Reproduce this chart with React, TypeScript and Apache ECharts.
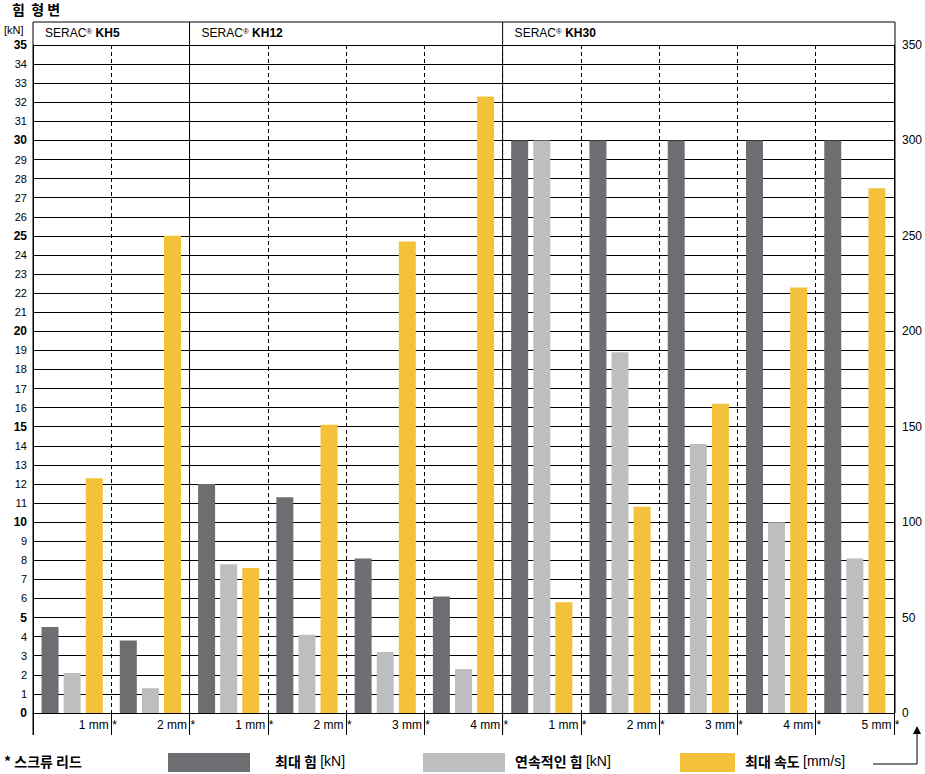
import React, { useEffect, useRef } from 'react';
import * as echarts from 'echarts';

const categories = ['1 mm *', '2 mm *', '1 mm *', '2 mm *', '3 mm *', '4 mm *', '1 mm *', '2 mm *', '3 mm *', '4 mm *', '5 mm *'];
const maxForce = [4.5, 3.8, 12.0, 11.3, 8.1, 6.1, 30, 30, 30, 30, 30];
const contForce = [2.1, 1.3, 7.8, 4.1, 3.2, 2.3, 30, 18.9, 14.1, 10, 8.1];
const maxSpeed = [123, 250, 76, 151, 247, 323, 58, 108, 162, 223, 275];
const groups = [
  { name: 'KH5', start: 0 },
  { name: 'KH12', start: 2 },
  { name: 'KH30', start: 6 },
];

const FONT = '"Liberation Sans Narrow", "Liberation Sans", Arial, sans-serif';
const DARK = '#6d6e71';
const LIGHT = '#bcbec0';
const YELLOW = '#f3c13a';

const App: React.FC = () => {
  const ref = useRef<HTMLDivElement>(null);

  useEffect(() => {
    if (!ref.current) return;
    const chart = echarts.init(ref.current, null, { renderer: 'svg' });
    const top = 45, bottom = 61, left = 33, right = 30;
    chart.setOption({
      animation: false,
      textStyle: { fontFamily: FONT },
      grid: { left, right, top, bottom },
      xAxis: {
        type: 'category',
        data: categories,
        axisLine: { lineStyle: { color: '#000', width: 1 } },
        axisTick: { show: true, length: 22, lineStyle: { color: '#000' } },
        axisLabel: { color: '#000', fontSize: 12, align: 'left', margin: 6,
          formatter: (v: string) => '  ' + v },
        splitLine: { show: true, lineStyle: { color: '#000', type: [4, 3], width: 1 } },
      },
      yAxis: [
        {
          type: 'value', min: 0, max: 35, interval: 1,
          axisLine: { show: true, lineStyle: { color: '#000' } },
          axisTick: { show: false },
          axisLabel: {
            color: '#000', fontSize: 11, margin: 6,
            formatter: (v: number) => (v % 5 === 0 ? `{b|${v}}` : `${v}`),
            rich: { b: { fontWeight: 'bold', fontSize: 12, fontFamily: FONT } },
          },
          splitLine: { show: true, interval: (i: number) => i % 5 === 0,
            lineStyle: { color: '#000', width: 1 } },
        },
        {
          type: 'value', min: 0, max: 350, interval: 50,
          axisLine: { show: true, lineStyle: { color: '#000' } },
          axisTick: { show: false },
          axisLabel: { color: '#000', fontSize: 12, margin: 8 },
          splitLine: { show: false },
        },
      ],
      series: [
        { type: 'bar', data: maxForce, barWidth: 17, barGap: '30%', itemStyle: { color: DARK } },
        { type: 'bar', data: contForce, barWidth: 17, barGap: '30%', itemStyle: { color: LIGHT } },
        { type: 'bar', data: maxSpeed, yAxisIndex: 1, barWidth: 17, barGap: '30%', itemStyle: { color: YELLOW } },
      ],
    });

    const W = 925, H = 774;
    const px = (i: number) => chart.convertToPixel({ xAxisIndex: 0 }, i) as number;
    const step = px(1) - px(0);
    const bound = (i: number) => px(i) - step / 2;
    const baseY = H - bottom;
    const elems: any[] = [];
    // top header line
    elems.push({ type: 'line', shape: { x1: left, y1: 22, x2: W - right, y2: 22 }, style: { stroke: '#000', lineWidth: 1 } });
    groups.forEach((g) => {
      const x = bound(g.start);
      elems.push({ type: 'line', shape: { x1: x, y1: 22, x2: x, y2: baseY + 22 }, style: { stroke: '#000', lineWidth: 1 }, z: 10 });
      elems.push({
        type: 'text', x: x + 12, y: 27,
        style: {
          text: `{n|SERAC}{s|®} {b|${g.name}}`,
          rich: {
            n: { fontSize: 12, fontFamily: FONT, fill: '#000' },
            s: { fontSize: 8, fontFamily: FONT, fill: '#000', verticalAlign: 'top' },
            b: { fontSize: 12, fontWeight: 'bold', fontFamily: FONT, fill: '#000' },
          },
        },
      });
    });
    elems.push({ type: 'line', shape: { x1: W - right, y1: 22, x2: W - right, y2: baseY }, style: { stroke: '#000' } });
    elems.push({ type: 'text', x: 12, y: 2, style: { text: '힘  형 변', font: 'bold 14px "Noto Sans CJK KR"', fill: '#000' } });
    elems.push({ type: 'text', x: 4, y: 24, style: { text: '[kN]', font: '11px ' + FONT, fill: '#000' } });
    // legend
    const ly = 753;
    elems.push({ type: 'text', x: 4, y: ly + 1, style: { text: '* 스크류 리드', font: 'bold 14px "Noto Sans CJK KR"', fill: '#000' } });
    const leg = [
      { x: 168, w: 82, c: DARK, t: '최대 힘', u: '[kN]', tx: 275 },
      { x: 423, w: 82, c: LIGHT, t: '연속적인 힘', u: '[kN]', tx: 515 },
      { x: 680, w: 55, c: YELLOW, t: '최대 속도', u: '[mm/s]', tx: 745 },
    ];
    leg.forEach((l) => {
      elems.push({ type: 'rect', shape: { x: l.x, y: ly, width: l.w, height: 19 }, style: { fill: l.c } });
      elems.push({
        type: 'text', x: l.tx, y: ly + 1,
        style: {
          text: `{a|${l.t}} {b|${l.u}}`,
          rich: {
            a: { font: 'bold 14px "Noto Sans CJK KR"', fill: '#000' },
            b: { fontSize: 14, fontFamily: FONT, fill: '#000' },
          },
        },
      });
    });
    // arrow to right axis
    const ax = W - 8;
    elems.push({ type: 'polyline', shape: { points: [[ax, 732], [ax, 764], [873, 764]] }, style: { stroke: '#000', fill: 'none', lineWidth: 1 } });
    elems.push({ type: 'polygon', shape: { points: [[ax - 4, 734], [ax + 4, 734], [ax, 726]] }, style: { fill: '#000' } });
    chart.setOption({ graphic: elems });

    return () => chart.dispose();
  }, []);

  return <div ref={ref} style={{ position: 'fixed', left: 0, top: 0, width: 925, height: 774, background: '#fff' }} />;
};

export default App;
